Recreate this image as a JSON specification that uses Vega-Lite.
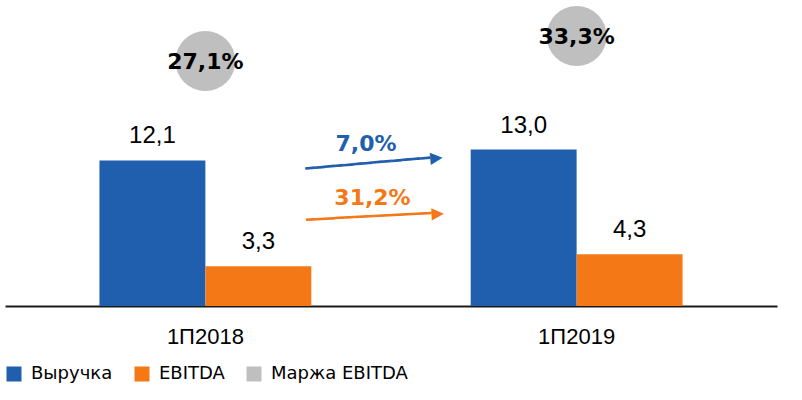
{
  "$schema": "https://vega.github.io/schema/vega-lite/v6.json",
  "width": 772,
  "height": 300,
  "config": {
    "view": {"stroke": null},
    "axis": {"grid": false}
  },
  "resolve": {"scale": {"y": "independent"}},
  "layer": [
    {
      "data": {"values": [
        {"period": "1П2018", "series": "Выручка", "value": 12.1, "label": "12,1"},
        {"period": "1П2018", "series": "EBITDA", "value": 3.3, "label": "3,3"},
        {"period": "1П2019", "series": "Выручка", "value": 13.0, "label": "13,0"},
        {"period": "1П2019", "series": "EBITDA", "value": 4.3, "label": "4,3"}
      ]},
      "mark": {"type": "bar"},
      "encoding": {
        "x": {"field": "period", "type": "nominal", "scale": {"domain": ["1П2018", "1П2019"], "paddingInner": 0.4293, "paddingOuter": 0.2544},
          "axis": {"title": null, "domainColor": "#1a1a1a", "domainWidth": 2, "ticks": false, "tickSize": 0, "labelAngle": 0, "labelFont": "Liberation Sans", "labelFontSize": 22, "labelColor": "#000000", "labelPadding": 20}},
        "xOffset": {"field": "series", "type": "nominal", "sort": "descending", "scale": {"paddingInner": 0}},
        "y": {"field": "value", "type": "quantitative", "scale": {"domain": [0, 24.93], "nice": false}, "axis": null},
        "color": {"field": "series", "type": "nominal",
          "scale": {"domain": ["Выручка", "EBITDA", "Маржа EBITDA"], "range": ["#1F5FAE", "#F47916", "#BFBFBF"]},
          "legend": {"orient": "bottom", "direction": "horizontal", "title": null, "symbolType": "square", "symbolSize": 225, "labelOffset": 8, "columnPadding": 20, "labelFont": "DejaVu Sans", "labelFontSize": 18, "labelColor": "#000000", "labelLimit": 300}}
      }
    },
    {
      "data": {"values": [
        {"period": "1П2018", "series": "Выручка", "value": 12.1, "label": "12,1"},
        {"period": "1П2018", "series": "EBITDA", "value": 3.3, "label": "3,3"},
        {"period": "1П2019", "series": "Выручка", "value": 13.0, "label": "13,0"},
        {"period": "1П2019", "series": "EBITDA", "value": 4.3, "label": "4,3"}
      ]},
      "mark": {"type": "text", "font": "Liberation Sans", "fontSize": 24, "color": "#000000", "baseline": "alphabetic", "dy": -17},
      "encoding": {
        "x": {"field": "period", "type": "nominal"},
        "xOffset": {"field": "series", "type": "nominal", "sort": "descending"},
        "y": {"field": "value", "type": "quantitative", "scale": {"domain": [0, 24.93], "nice": false}, "axis": null},
        "text": {"field": "label", "type": "nominal"}
      }
    },
    {
      "data": {"values": [
        {"series": "Выручка", "from_period": "1П2018", "from": 12.1, "arrow": "━━━━━━━━━━━━━▶"}
      ]},
      "mark": {"type": "text", "font": "DejaVu Sans", "fontSize": 16, "color": "#1F5FAE", "align": "center", "baseline": "middle", "angle": -5, "dx": 167.6, "dy": 17.3},
      "encoding": {
        "x": {"field": "from_period", "type": "nominal"},
        "y": {"field": "from", "type": "quantitative", "scale": {"domain": [0, 24.93], "nice": false}, "axis": null},
        "text": {"field": "arrow", "type": "nominal"}
      }
    },
    {
      "data": {"values": [
        {"series": "EBITDA", "from_period": "1П2018", "from": 3.3, "arrow": "━━━━━━━━━━━━━▶"}
      ]},
      "mark": {"type": "text", "font": "DejaVu Sans", "fontSize": 16, "color": "#F47916", "align": "center", "baseline": "middle", "angle": -3, "dx": 172.0, "dy": -40.8},
      "encoding": {
        "x": {"field": "from_period", "type": "nominal"},
        "y": {"field": "from", "type": "quantitative", "scale": {"domain": [0, 24.93], "nice": false}, "axis": null},
        "text": {"field": "arrow", "type": "nominal"}
      }
    },
    {
      "data": {"values": [
        {"series": "Выручка", "from_period": "1П2018", "from": 12.1, "growth": "7,0%"}
      ]},
      "mark": {"type": "text", "font": "DejaVu Sans", "fontWeight": "bold", "fontSize": 22, "color": "#1F5FAE", "align": "center", "baseline": "middle", "dx": 160.6, "dy": -16},
      "encoding": {
        "x": {"field": "from_period", "type": "nominal"},
        "y": {"field": "from", "type": "quantitative", "scale": {"domain": [0, 24.93], "nice": false}, "axis": null},
        "text": {"field": "growth", "type": "nominal"}
      }
    },
    {
      "data": {"values": [
        {"series": "EBITDA", "from_period": "1П2018", "from": 3.3, "growth": "31,2%"}
      ]},
      "mark": {"type": "text", "font": "DejaVu Sans", "fontWeight": "bold", "fontSize": 22, "color": "#F47916", "align": "center", "baseline": "middle", "dx": 167.1, "dy": -68.3},
      "encoding": {
        "x": {"field": "from_period", "type": "nominal"},
        "y": {"field": "from", "type": "quantitative", "scale": {"domain": [0, 24.93], "nice": false}, "axis": null},
        "text": {"field": "growth", "type": "nominal"}
      }
    },
    {
      "data": {"values": [
        {"period": "1П2018", "margin": 0.271, "label": "27,1%"},
        {"period": "1П2019", "margin": 0.333, "label": "33,3%"}
      ]},
      "mark": {"type": "point", "shape": "circle", "size": 3600, "filled": true, "color": "#BFBFBF", "opacity": 1},
      "encoding": {
        "x": {"field": "period", "type": "nominal"},
        "y": {"field": "margin", "type": "quantitative", "scale": {"domain": [-0.3366, 0.4074], "nice": false, "zero": false}, "axis": null}
      }
    },
    {
      "data": {"values": [
        {"period": "1П2018", "margin": 0.271, "label": "27,1%"},
        {"period": "1П2019", "margin": 0.333, "label": "33,3%"}
      ]},
      "mark": {"type": "text", "font": "DejaVu Sans", "fontWeight": "bold", "fontSize": 22, "color": "#000000", "align": "center", "baseline": "middle", "dy": 1},
      "encoding": {
        "x": {"field": "period", "type": "nominal"},
        "y": {"field": "margin", "type": "quantitative", "scale": {"domain": [-0.3366, 0.4074], "nice": false, "zero": false}, "axis": null},
        "text": {"field": "label", "type": "nominal"}
      }
    }
  ]
}
